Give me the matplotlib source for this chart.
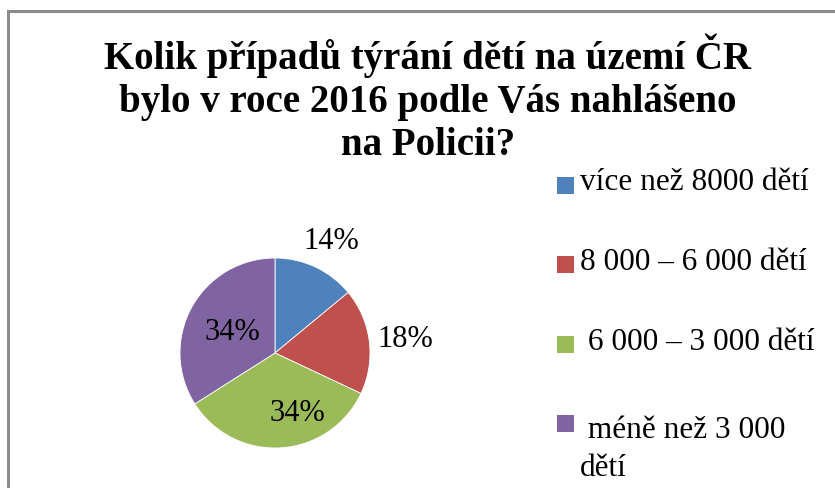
import matplotlib
matplotlib.use("Agg")
import matplotlib.pyplot as plt
from matplotlib.patches import Rectangle
import numpy as np

title = "Kolik případů týrání dětí na území ČR\nbylo v roce 2016 podle Vás nahlášeno\nna Policii?"
categories = ["více než 8000 dětí", "8 000 – 6 000 dětí", " 6 000 – 3 000 dětí", " méně než 3 000\ndětí"]
values = [14, 18, 34, 34]
colors = ["#4F81BD", "#C0504D", "#9BBB59", "#8064A2"]
# label placement style (radius, angular offset in degrees)
label_r = [1.31, 1.38, 0.68, 0.50]
label_off = [-1.6, -1.4, 16.8, 3.0]

W, H = 835, 488
fig = plt.figure(figsize=(W / 100, H / 100), dpi=100)
fig.patch.set_facecolor("white")
serif = ["Liberation Serif", "DejaVu Serif"]

# chart border (top & left visible)
fig.add_artist(plt.Line2D([7.5 / W, 1.0], [1 - 11 / H, 1 - 11 / H], color="#8C8C8C", lw=2.2, transform=fig.transFigure))
fig.add_artist(plt.Line2D([7.5 / W, 7.5 / W], [0, 1 - 11 / H], color="#8C8C8C", lw=2.2, transform=fig.transFigure))

fig.text(428 / W, 1 - 99 / H, title, ha="center", va="center", fontsize=28, fontweight="bold",
         family=serif, linespacing=1.22)

cx, cy, r = 275, 353, 95
ax = fig.add_axes([(cx - r) / W, (H - cy - r) / H, 2 * r / W, 2 * r / H])
wedges, _ = ax.pie(values, colors=colors, startangle=90, counterclock=False, radius=1.0,
                   wedgeprops=dict(linewidth=0.6, edgecolor="white"))
ax.set_xlim(-1, 1)
ax.set_ylim(-1, 1)
ax.set_aspect("equal")
ax.axis("off")
for i, w in enumerate(wedges):
    mid = np.deg2rad((w.theta1 + w.theta2) / 2 + label_off[i])
    ax.text(label_r[i] * np.cos(mid), label_r[i] * np.sin(mid), f"{values[i]}%",
            ha="center", va="center", fontsize=22, family=serif, clip_on=False)

# legend
sq = 17
y0, dy = 185, 79.5
for i, (lab, c) in enumerate(zip(categories, colors)):
    yc = y0 + i * dy
    fig.add_artist(Rectangle((557 / W, 1 - (yc + sq / 2) / H), sq / W, sq / H, facecolor=c,
                             edgecolor="none", transform=fig.transFigure))
    if "\n" in lab:
        fig.text(580 / W, 1 - (yc - 8) / H, lab, ha="left", va="top",
                 fontsize=22.5, family=serif, linespacing=1.42)
    else:
        fig.text(580 / W, 1 - (yc - 2) / H, lab, ha="left", va="center",
                 fontsize=22.5, family=serif)

fig.savefig("out.png", dpi=100)
